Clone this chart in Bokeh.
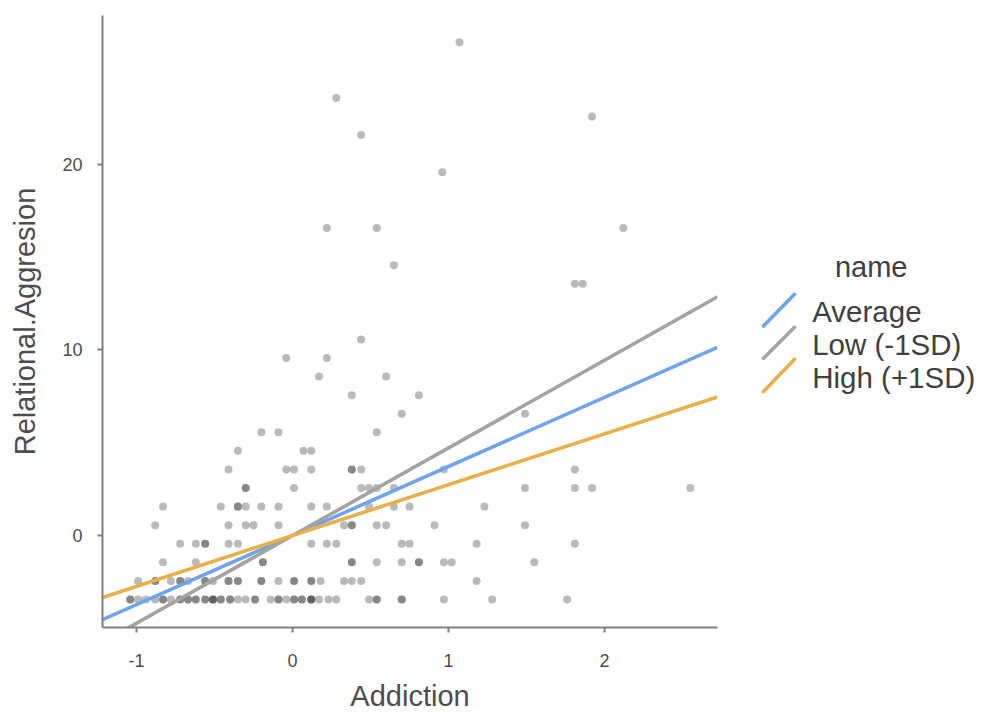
from bokeh.plotting import figure
from bokeh.layouts import row
from bokeh.models import Range1d, FixedTicker, ColumnDataSource
from bokeh.core.properties import value
from bokeh.embed import file_html
from bokeh.resources import INLINE

# ---- data ----
agg_levels = [-3.44, -2.44, -1.44, -0.44, 0.56, 1.56, 2.56, 3.56, 4.56, 5.56,
              6.56, 7.56, 8.56, 9.56, 10.56, 13.56, 14.56, 16.56, 19.56,
              21.56, 22.56, 23.56, 26.56]

add_m3 = [-1.04, -1.04, -0.99, -0.94, -0.88, -0.83, -0.83, -0.78, -0.72, -0.72,
          -0.67, -0.67, -0.62, -0.62, -0.56, -0.56, -0.51, -0.51, -0.51, -0.46,
          -0.46, -0.40, -0.40, -0.35, -0.30, -0.24, -0.24, -0.14, -0.09, -0.09,
          -0.04, 0.01, 0.01, 0.06, 0.06, 0.12, 0.12, 0.12, 0.17, 0.23, 0.28,
          0.49, 0.54, 0.54, 0.70, 0.70, 0.97, 1.28, 1.76]
add_m2 = [-0.99, -0.88, -0.88, -0.78, -0.72, -0.72, -0.67, -0.56, -0.56, -0.51,
          -0.41, -0.41, -0.35, -0.35, -0.20, -0.20, -0.09, 0.01, 0.01, 0.12,
          0.12, 0.18, 0.33, 0.38, 0.44, 1.18]
add_m1 = [-0.83, -0.62, -0.19, -0.19, 0.38, 0.38, 0.54, 0.70, 0.81, 0.81, 0.97,
          1.02, 1.55]
add_m0 = [-0.72, -0.62, -0.56, -0.56, -0.41, -0.35, 0.12, 0.22, 0.28, 0.70, 0.75,
          1.18, 1.81]
add_p0 = [-0.88, -0.41, -0.30, -0.25, -0.09, 0.33, 0.38, 0.38, 0.54, 0.60, 0.91,
          1.49]
add_p1 = [-0.83, -0.46, -0.35, -0.35, -0.30, -0.20, -0.09, 0.12, 0.22, 0.49,
          0.65, 0.75, 1.23]
add_p2 = [-0.30, -0.30, 0.01, 0.44, 0.49, 0.54, 0.65, 1.49, 1.81, 1.92, 2.55]
add_p3 = [-0.41, -0.04, 0.01, 0.12, 0.38, 0.38, 0.44, 0.97, 1.81]
add_p4 = [-0.35, 0.07, 0.12]
add_p5 = [-0.20, -0.09, 0.54]
add_p6 = [0.70, 1.49]
add_p7 = [0.38, 0.81]
add_p8 = [0.17, 0.60]
add_p9 = [-0.04, 0.22]
add_p10 = [0.44]
add_p13 = [1.81, 1.86]
add_p14 = [0.65]
add_p16 = [0.22, 0.54, 2.12]
add_p19 = [0.96]
add_p21 = [0.44]
add_p22 = [1.92]
add_p23 = [0.28]
add_p26 = [1.07]

addiction_rows = [add_m3, add_m2, add_m1, add_m0, add_p0, add_p1, add_p2, add_p3,
                  add_p4, add_p5, add_p6, add_p7, add_p8, add_p9, add_p10,
                  add_p13, add_p14, add_p16, add_p19, add_p21, add_p22, add_p23,
                  add_p26]

line_names = ["Average", "Low (-1SD)", "High (+1SD)"]
line_slopes = [3.72, 4.72, 2.74]
line_intercepts = [0.0, 0.0, 0.0]
line_colors = ["#6fa3ea", "#a3a3a3", "#e8b04a"]

x_ticks = [-1, 0, 1, 2]
x_tick_labels = ["-1", "0", "1", "2"]
y_ticks = [0, 10, 20]

# ---- build point source ----
xs, ys = [], []
for lvl, row_x in zip(agg_levels, addiction_rows):
    for v in row_x:
        xs.append(v)
        ys.append(lvl)
pts = ColumnDataSource(dict(x=xs, y=ys))

X0, X1 = -1.218, 2.724
Y0, Y1 = -4.95, 28.0

FONT = "Liberation Sans"
H = 714
TOP, BOTTOM = 15, 86

p = figure(width=728, height=H, x_range=Range1d(X0, X1), y_range=Range1d(Y0, Y1),
           output_backend="svg", toolbar_location=None,
           min_border_left=102, min_border_right=11, min_border_top=TOP,
           min_border_bottom=BOTTOM)
p.xgrid.visible = False
p.ygrid.visible = False
p.outline_line_color = None
p.background_fill_color = "white"
p.border_fill_color = "white"

p.scatter("x", "y", source=pts, size=8, fill_color="black", fill_alpha=0.27,
          line_color=None)

for name, m, b, c in zip(line_names, line_slopes, line_intercepts, line_colors):
    p.line([X0, X1], [b + m * X0, b + m * X1], line_color=c, line_width=3.6)

p.xaxis.ticker = FixedTicker(ticks=x_ticks)
p.yaxis.ticker = FixedTicker(ticks=y_ticks)
p.xaxis.major_label_overrides = {t: s for t, s in zip(x_ticks, x_tick_labels)}
p.xaxis.axis_label = "Addiction"
p.yaxis.axis_label = "Relational.Aggresion"
for ax in (p.xaxis[0], p.yaxis[0]):
    ax.axis_line_color = "#808080"
    ax.axis_line_width = 2
    ax.major_tick_line_color = "#808080"
    ax.major_tick_line_width = 2
    ax.major_tick_out = 5
    ax.major_tick_in = 0
    ax.minor_tick_line_color = None
    ax.major_label_text_font = FONT
    ax.major_label_text_font_size = "18px"
    ax.major_label_text_color = "#4d4d4d"
    ax.axis_label_text_font = FONT
    ax.axis_label_text_font_size = "29px"
    ax.axis_label_text_font_style = "normal"
    ax.axis_label_text_color = "#4d4d4d"
p.xaxis.major_label_standoff = 21
p.xaxis.axis_label_standoff = 10
p.yaxis.major_label_standoff = 15
p.yaxis.axis_label_standoff = 18

# ---- legend panel (coordinates are page pixels) ----
LX0, LX1 = 728, 982
leg = figure(width=LX1 - LX0, height=H, x_range=Range1d(LX0, LX1),
             y_range=Range1d(H - BOTTOM, TOP),
             output_backend="svg", toolbar_location=None,
             min_border_left=0, min_border_right=0, min_border_top=TOP,
             min_border_bottom=BOTTOM, x_axis_type=None, y_axis_type=None)
leg.grid.visible = False
leg.outline_line_color = None
leg.background_fill_color = "white"
leg.border_fill_color = "white"

leg.text(x=[870.7], y=[266.5], text=["name"], text_font=value(FONT),
         text_font_size="29px", text_align="center", text_baseline="middle",
         text_color="#404040")
key_top = [294.3, 327.3, 359.3]
key_bot = [326.0, 358.3, 391.7]
leg.segment(x0=[763] * 3, y0=key_bot, x1=[794] * 3, y1=key_top,
            line_color=line_colors, line_width=3.6, line_cap="round")
leg.text(x=[811.7] * 3, y=[311, 344.5, 377.5], text=line_names, text_font=value(FONT),
         text_font_size="29.5px", text_align="left", text_baseline="middle",
         text_color="#404040")

layout = row(p, leg)
open("out.html", "w").write(file_html(layout, INLINE))
